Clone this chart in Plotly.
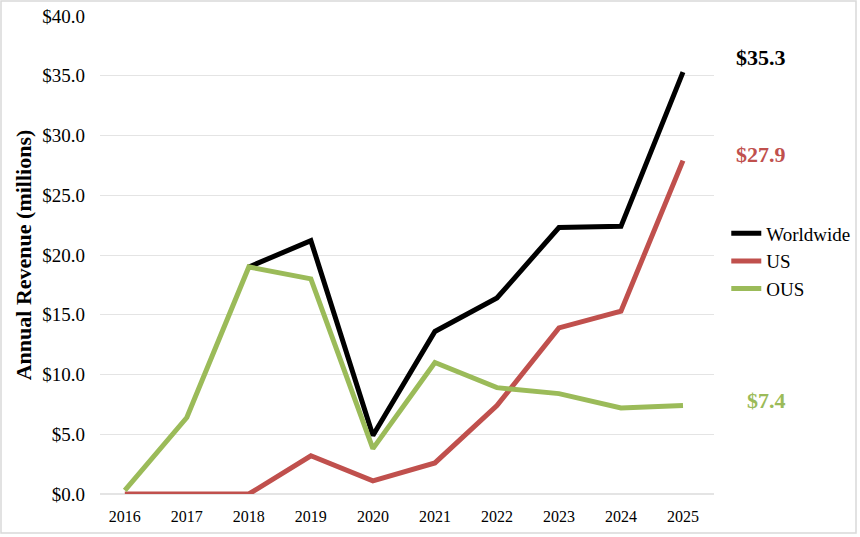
import plotly.graph_objects as go

# revenue by year, $ millions
years = ["2016", "2017", "2018", "2019", "2020", "2021", "2022", "2023", "2024", "2025"]
worldwide = [None, None, 19.0, 21.2, 4.9, 13.6, 16.4, 22.3, 22.4, 35.3]
us = [0.0, 0.0, 0.0, 3.2, 1.1, 2.6, 7.4, 13.9, 15.3, 27.9]
ous = [0.3, 6.4, 19.0, 18.0, 3.8, 11.0, 8.9, 8.4, 7.2, 7.4]

BLACK, RED, GREEN = "#000000", "#C0504D", "#9BBB59"
FONT = "Georgia, 'Liberation Serif', 'DejaVu Serif', serif"

fig = go.Figure()
for name, vals, col in [("Worldwide", worldwide, BLACK), ("US", us, RED), ("OUS", ous, GREEN)]:
    fig.add_trace(go.Scatter(x=years, y=vals, name=name, mode="lines",
                             line=dict(color=col, width=5)))

# end-of-line value callouts
for vals, col, dy in [(worldwide, BLACK, 1.25), (us, RED, 0.5), (ous, GREEN, 0.4)]:
    fig.add_annotation(xref="paper", x=1.12, y=vals[-1] + dy, text=f"<b>${vals[-1]:.1f}</b>",
                       showarrow=False, font=dict(family=FONT, size=22, color=col))

# thin frame round the whole chart
fig.add_shape(type="rect", xref="paper", yref="paper",
              x0=-99/614, x1=1 + 142/614, y0=-39/478, y1=1 + 15/478,
              line=dict(color="#d9d9d9", width=1.5), layer="below")

fig.update_layout(
    width=860, height=537, margin=dict(l=100, r=146, t=16, b=43, autoexpand=False),
    paper_bgcolor="white", plot_bgcolor="white",
    font=dict(family=FONT, size=17, color="black"),
    legend=dict(x=1.02, y=0.585, xanchor="left", yanchor="top",
                font=dict(size=19), tracegroupgap=0),
    yaxis=dict(range=[0, 40], dtick=5, tickformat="$.1f", gridcolor="#e4e4e4",
               showline=False, zeroline=True, zerolinecolor="#e4e4e4",
               ticks="", ticklabelstandoff=14, tickfont=dict(size=19),
               title=dict(text="<b>Annual Revenue (millions)</b>",
                          font=dict(size=22), standoff=4)),
    xaxis=dict(range=[-0.4, 9.5], showgrid=False, showline=False, ticks="",
               ticklabelstandoff=11, tickfont=dict(size=16)),
)

fig.write_html("out.html", config={"displayModeBar": False},
               post_script="document.body.style.margin='0';")
